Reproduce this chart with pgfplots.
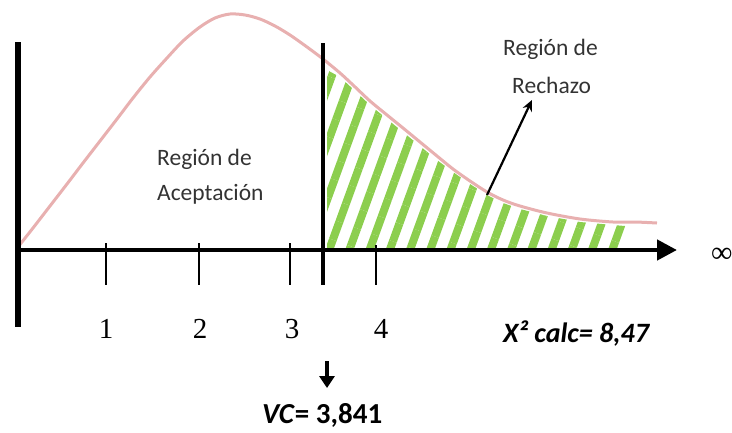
\documentclass[border=0pt]{standalone}
\usepackage{fontspec}
\setmainfont{Carlito}
\newfontfamily\serifnum{Liberation Serif}
\usepackage{pgfplots}
\pgfplotsset{compat=1.18}
\usetikzlibrary{arrows.meta,patterns.meta}
\definecolor{curvepink}{RGB}{232,176,176}
\definecolor{hatchgreen}{RGB}{140,206,78}

\begin{document}
\begin{tikzpicture}
\begin{axis}[
  scale only axis, width=732pt, height=432pt,
  xmin=0, xmax=732, ymin=0, ymax=432, y dir=reverse,
  axis lines=none, clip=false,
]
% rejection region (hatched)
\addplot[draw=none, pattern={Lines[angle=70,distance=19pt,line width=8pt]},
  pattern color=hatchgreen] coordinates {
  (327,250) (327,70) (340,77) (353,89) (370,105) (387,119) (403,132) (420,146)
  (437,160) (453,172) (470,184) (487,195) (503,203) (520,209) (547,216)
  (580,222) (613,225) (625,226) (625,250)} -- cycle;

% chi-square density curve
\addplot[curvepink, line width=3pt, smooth, tension=0.5] coordinates {
  (18,247) (33,228) (50,206) (67,184) (83,163) (100,141) (117,119) (133,98)
  (150,77) (167,58) (183,41) (200,27) (215,18) (230,14) (245,15) (260,19)
  (275,26) (290,35) (307,47) (323,59) (340,73) (353,85) (370,101) (387,115)
  (403,128) (420,142) (437,156) (453,169) (470,181) (487,192) (503,200)
  (520,206) (547,213) (580,219) (613,222) (635,222) (657,223)};

% axes
\addplot[black, line width=6pt] coordinates {(18,42) (18,327)};
\addplot[black, line width=4.5pt, -{Triangle[length=20pt,width=20pt]}]
  coordinates {(16,250) (677,250)};
\addplot[black, line width=4pt] coordinates {(323,43) (323,285)};

% ticks
\addplot[black, line width=2pt] coordinates {(106,243) (106,285)};
\addplot[black, line width=2pt] coordinates {(199,243) (199,285)};
\addplot[black, line width=2pt] coordinates {(290,243) (290,285)};
\addplot[black, line width=2pt] coordinates {(376,245) (376,285)};

% arrows
\addplot[black, line width=2.2pt, -{Stealth[length=11pt,width=10pt]}]
  coordinates {(487,195) (532,100)};
\addplot[black, line width=4pt, -{Triangle[length=12pt,width=15pt]}]
  coordinates {(327,361) (327,388)};

% tick labels
\node[anchor=base, font=\serifnum\fontsize{29}{29}\selectfont] at (axis cs:106,338) {1};
\node[anchor=base, font=\serifnum\fontsize{29}{29}\selectfont] at (axis cs:200,338) {2};
\node[anchor=base, font=\serifnum\fontsize{29}{29}\selectfont] at (axis cs:292,338) {3};
\node[anchor=base, font=\serifnum\fontsize{29}{29}\selectfont] at (axis cs:381,338) {4};
\node[anchor=west, inner sep=0pt, font=\serifnum\fontsize{30}{30}\selectfont] at (axis cs:711,255) {∞};

% region labels
\node[anchor=base west, inner sep=0pt, font=\fontsize{23.5}{24}\selectfont, text=black!80] at (axis cs:157,165) {Región de};
\node[anchor=base west, inner sep=0pt, font=\fontsize{23.5}{24}\selectfont, text=black!80] at (axis cs:157,200) {Aceptación};
\node[anchor=base west, inner sep=0pt, font=\fontsize{23.5}{24}\selectfont, text=black!80] at (axis cs:503,55) {Región de};
\node[anchor=base west, inner sep=0pt, font=\fontsize{23.5}{24}\selectfont, text=black!80] at (axis cs:512,93) {Rechazo};

% values
\node[anchor=base west, inner sep=0pt, font=\bfseries\itshape\fontsize{28}{28}\selectfont] at (axis cs:503,342) {X² calc= 8,47};
\node[anchor=base west, inner sep=0pt, font=\bfseries\fontsize{29}{29}\selectfont] at (axis cs:262,423) {\textit{VC}= 3,841};
\end{axis}
\pgfresetboundingbox
\path[use as bounding box] (0,0) rectangle (732pt,432pt);
\end{tikzpicture}
\end{document}
